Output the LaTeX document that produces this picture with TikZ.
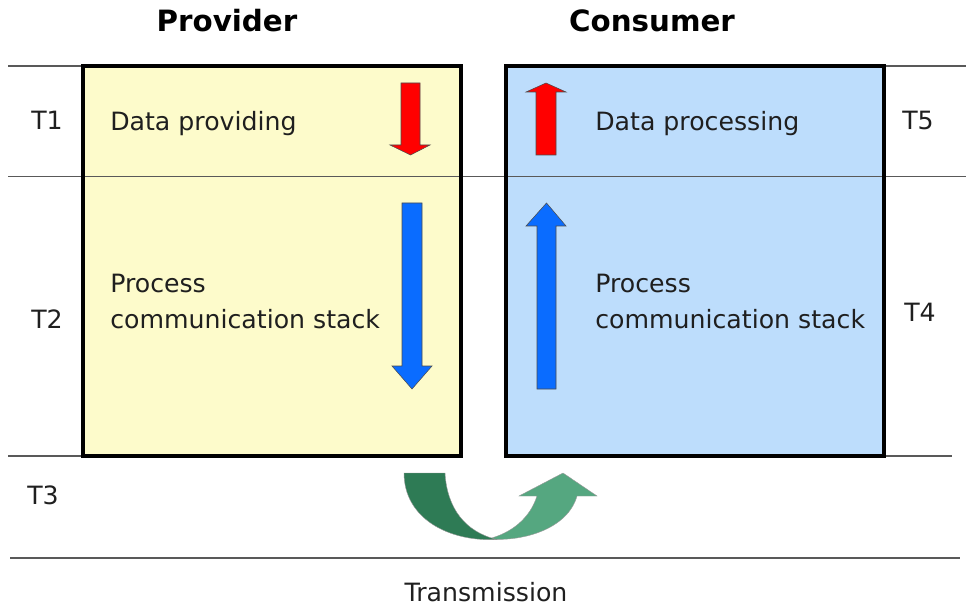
\documentclass[tikz,border=0pt]{standalone}
\usepackage{fontspec}
\setmainfont{DejaVu Sans}
\begin{document}
\begin{tikzpicture}[x=0.75pt,y=-0.75pt,
  txt/.style={inner sep=0pt,text=black!88,font=\fontsize{18.9}{22}\selectfont},
  title/.style={inner sep=0pt,font=\fontsize{22}{26}\selectfont\bfseries},
  rule/.style={draw=black!65,line width=1.1pt},
  panel/.style={inner sep=0pt,outer sep=0pt,anchor=north west,
    minimum width=283.5pt,minimum height=292.5pt},
  panelborder/.style={draw=black,line width=2.5pt},
  vecarrow/.style={draw=black!70,line width=0.4pt},
]
\definecolor{provfill}{HTML}{FDFBCB}
\definecolor{consfill}{HTML}{BDDDFC}
\definecolor{redarr}{HTML}{FF0000}
\definecolor{bluearr}{HTML}{0A6CFF}
\definecolor{darkgreen}{HTML}{2E7B55}
\definecolor{lightgreen}{HTML}{55A780}
\useasboundingbox (0,0) rectangle (966,609);

% time lanes
\draw[rule] (8,66) -- (83,66);
\draw[rule] (883,66) -- (966,66);
\draw[rule] (8,456) -- (83,456);
\draw[rule] (883,456) -- (952,456);
\draw[rule] (10,558) -- (960,558);

% panels
\node[panel,fill=provfill] (prov) at (83,66) {};
\node[panel,fill=consfill] (cons) at (506,66) {};
\draw[rule] (8,176.5) -- (966,176.5);
\draw[panelborder] (prov.north west) rectangle (prov.south east);
\draw[panelborder] (cons.north west) rectangle (cons.south east);

% titles
\node[title,anchor=base] (tprov) at (227,31.5) {Provider};
\node[title,anchor=base] (tcons) at (652,31.5) {Consumer};

% lane labels
\node[txt,anchor=base] (t1) at (47,130) {T1};
\node[txt,anchor=base] (t2) at (47,328) {T2};
\node[txt,anchor=base] (t3) at (43,504) {T3};
\node[txt,anchor=base] (t4) at (920,321) {T4};
\node[txt,anchor=base] (t5) at (918,130) {T5};
\node[txt,anchor=base] (trans) at (486,601) {Transmission};

% panel texts
\node[txt,anchor=base west] (dprov) at (110,131) {Data providing};
\node[txt,anchor=base west] (sprov) at (110,293) {Process};
\node[txt,anchor=base west] (sprov2) at (110,328.3) {communication stack};
\node[txt,anchor=base west] (dcons) at (595,131) {Data processing};
\node[txt,anchor=base west] (scons) at (595,293) {Process};
\node[txt,anchor=base west] (scons2) at (595,328.3) {communication stack};

% block arrows
\filldraw[vecarrow,fill=redarr] (401,83) -- (420,83) -- (420,145) -- (430,145) -- (410.5,155) -- (390,145) -- (401,145) -- cycle;
\filldraw[vecarrow,fill=redarr] (536,155) -- (556,155) -- (556,92) -- (566,92) -- (546,83) -- (526,92) -- (536,92) -- cycle;
\filldraw[vecarrow,fill=bluearr] (402,203) -- (422,203) -- (422,366) -- (432,366) -- (412,389) -- (392,366) -- (402,366) -- cycle;
\filldraw[vecarrow,fill=bluearr] (537,389) -- (556,389) -- (556,226) -- (566,226) -- (546.5,203) -- (526,226) -- (537,226) -- cycle;

% transmission U-turn arrow
\filldraw[draw=black!40,line width=0.3pt,fill=lightgreen]
  (488,539) .. controls (525,542) and (568,528) .. (577,496)
  -- (597,496) -- (563,473) -- (519,496) -- (537,496)
  .. controls (530,518) and (512,533) .. (488,539) -- cycle;
\filldraw[draw=black!40,line width=0.3pt,fill=darkgreen]
  (404,473) -- (445,473)
  .. controls (447,508) and (465,532) .. (497,539.5)
  .. controls (448,542) and (404,518) .. (404,473) -- cycle;
\end{tikzpicture}
\end{document}
